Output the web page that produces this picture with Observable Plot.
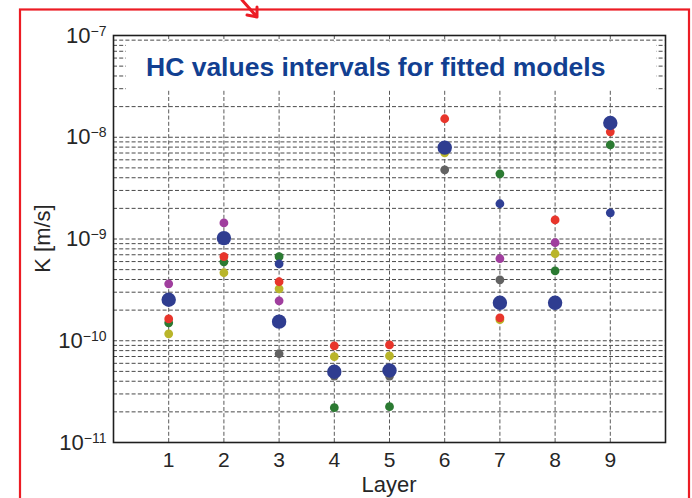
<!DOCTYPE html>
<html>
<head>
<meta charset="utf-8">
<script src="https://cdn.jsdelivr.net/npm/d3@7"></script>
<script src="https://cdn.jsdelivr.net/npm/@observablehq/plot@0.6"></script>
<style>
  html, body { margin: 0; padding: 0; background: #fff; }
  #chart { width: 692px; height: 498px; overflow: hidden; position: relative; }
</style>
</head>
<body>
<div id="chart"></div>
<script>
// Layers and axis tick labels
const layers = [1, 2, 3, 4, 5, 6, 7, 8, 9];
const layerLabels = ["1", "2", "3", "4", "5", "6", "7", "8", "9"];
const yDecades = [1e-11, 1e-10, 1e-9, 1e-8, 1e-7];
const yExponents = ["\u221211", "\u221210", "\u22129", "\u22128", "\u22127"];

// Hydraulic conductivity K [m/s] per layer for each fitted model (null = no value)
const kGray   = [null, null, 7.45e-11, 4.5e-11, 4.5e-11, 4.79e-9, 3.97e-10, null, null];
const kYellow = [1.17e-10, 4.66e-10, 3.24e-10, 6.97e-11, 7.1e-11, 7.03e-9, 1.61e-10, 7.16e-10, null];
const kGreen  = [1.50e-10, 5.97e-10, 6.7e-10, 2.2e-11, 2.25e-11, null, 4.37e-9, 4.87e-10, 8.4e-9];
const kPurple = [3.63e-10, 1.44e-9, 2.47e-10, null, null, null, 6.4e-10, 9.2e-10, null];
const kBlue   = [null, null, 5.7e-10, null, null, null, 2.22e-9, null, 1.81e-9];
const kRed    = [1.64e-10, 6.7e-10, 3.8e-10, 8.9e-11, 9.1e-11, 1.52e-8, 1.68e-10, 1.54e-9, 1.13e-8];
const kMean   = [2.53e-10, 1.02e-9, 1.54e-10, 4.96e-11, 5.1e-11, 7.9e-9, 2.36e-10, 2.36e-10, 1.38e-8];

const titleText = "HC values intervals for fitted models";

// Draw order (later series sit on top)
const series = [
  {values: kGray,   fill: "#626262", r: 4.4},
  {values: kYellow, fill: "#b9b52a", r: 4.4},
  {values: kGreen,  fill: "#2b7a32", r: 4.4},
  {values: kPurple, fill: "#a03e9e", r: 4.4},
  {values: kBlue,   fill: "#2f3f95", r: 4.4},
  {values: kRed,    fill: "#e8352b", r: 4.4},
  {values: kMean,   fill: "#2f3d90", r: 7.2}
];

const toRows = (values) => layers
  .map((layer, i) => ({layer, k: values[i]}))
  .filter(d => d.k != null);

// Log grid: every 1..9 multiple inside the axis range
const gridY = [];
for (let e = -11; e <= -8; e++) {
  for (let m = 1; m <= 9; m++) {
    const v = m * Math.pow(10, e);
    if (v > 1e-11 * 1.0001) gridY.push(v);
  }
}

const dash = "4,2.2";
const plot = Plot.plot({
  width: 692,
  height: 498,
  marginLeft: 113,
  marginRight: 27,
  marginTop: 35,
  marginBottom: 56,
  style: {fontFamily: "'Liberation Sans', Arial, sans-serif", fontSize: "21px", color: "#262626", background: "white"},
  x: {domain: [0, 10]},
  y: {type: "log", domain: [1e-11, 1e-7]},
  marks: [
    Plot.ruleY(gridY, {stroke: "#4a4a4a", strokeWidth: 1, strokeDasharray: dash}),
    Plot.ruleX(layers, {stroke: "#5a5a5a", strokeWidth: 1, strokeDasharray: dash}),
    ...series.map(s => Plot.dot(toRows(s.values), {x: "layer", y: "k", r: s.r, fill: s.fill, stroke: "none"})),
    Plot.frame({stroke: "#1e1e1e", strokeWidth: 1.6}),
    Plot.axisX({ticks: layers, tickFormat: (d, i) => layerLabels[i], tickSize: 0, tickPadding: 10, label: null}),
    Plot.axisY({ticks: yDecades, tickFormat: () => "10", tickSize: 0, tickPadding: 7, label: null})
  ]
});

document.getElementById("chart").appendChild(plot);
const svg = d3.select(plot);
const xs = plot.scale("x"), ys = plot.scale("y");

// Superscript exponents on the y tick labels
svg.selectAll('g[aria-label="y-axis tick label"] text').each(function (d, i) {
  const t = d3.select(this);
  t.attr("text-anchor", "end").attr("font-size", "22px");
  t.append("tspan")
    .attr("dy", "-0.5em")
    .attr("font-size", "14px")
    .text(yExponents[i]);
});

// Axis labels
svg.append("text")
  .attr("x", xs.apply(5))
  .attr("y", 492)
  .attr("text-anchor", "middle")
  .attr("font-size", "22px")
  .attr("fill", "#262626")
  .text("Layer");

svg.append("text")
  .attr("transform", `translate(42,${ys.apply(1e-9)}) rotate(-90)`)
  .attr("text-anchor", "middle")
  .attr("dy", "0.35em")
  .attr("font-size", "22px")
  .attr("fill", "#262626")
  .text("K [m/s]");

// Title box inside the axes
const tb = svg.append("g");
tb.append("rect")
  .attr("x", 126).attr("y", 41.5)
  .attr("width", 530).attr("height", 48.5)
  .attr("fill", "white");
tb.append("text")
  .attr("x", 146).attr("y", 76)
  .attr("text-anchor", "start")
  .attr("font-size", "26.5px")
  .attr("font-weight", "bold")
  .attr("fill", "#123f91")
  .text(titleText);

// Red highlight frame and pointer
svg.append("rect")
  .attr("x", 20).attr("y", 9.5)
  .attr("width", 669).attr("height", 520)
  .attr("fill", "none")
  .attr("stroke", "#ec1c24")
  .attr("stroke-width", 2.2);
svg.append("path")
  .attr("d", "M242,0 L257,17 M247,15 L257,17 L257,7")
  .attr("fill", "none")
  .attr("stroke", "#ec1c24")
  .attr("stroke-width", 3)
  .attr("stroke-linecap", "round")
  .attr("stroke-linejoin", "round");
</script>
</body>
</html>
